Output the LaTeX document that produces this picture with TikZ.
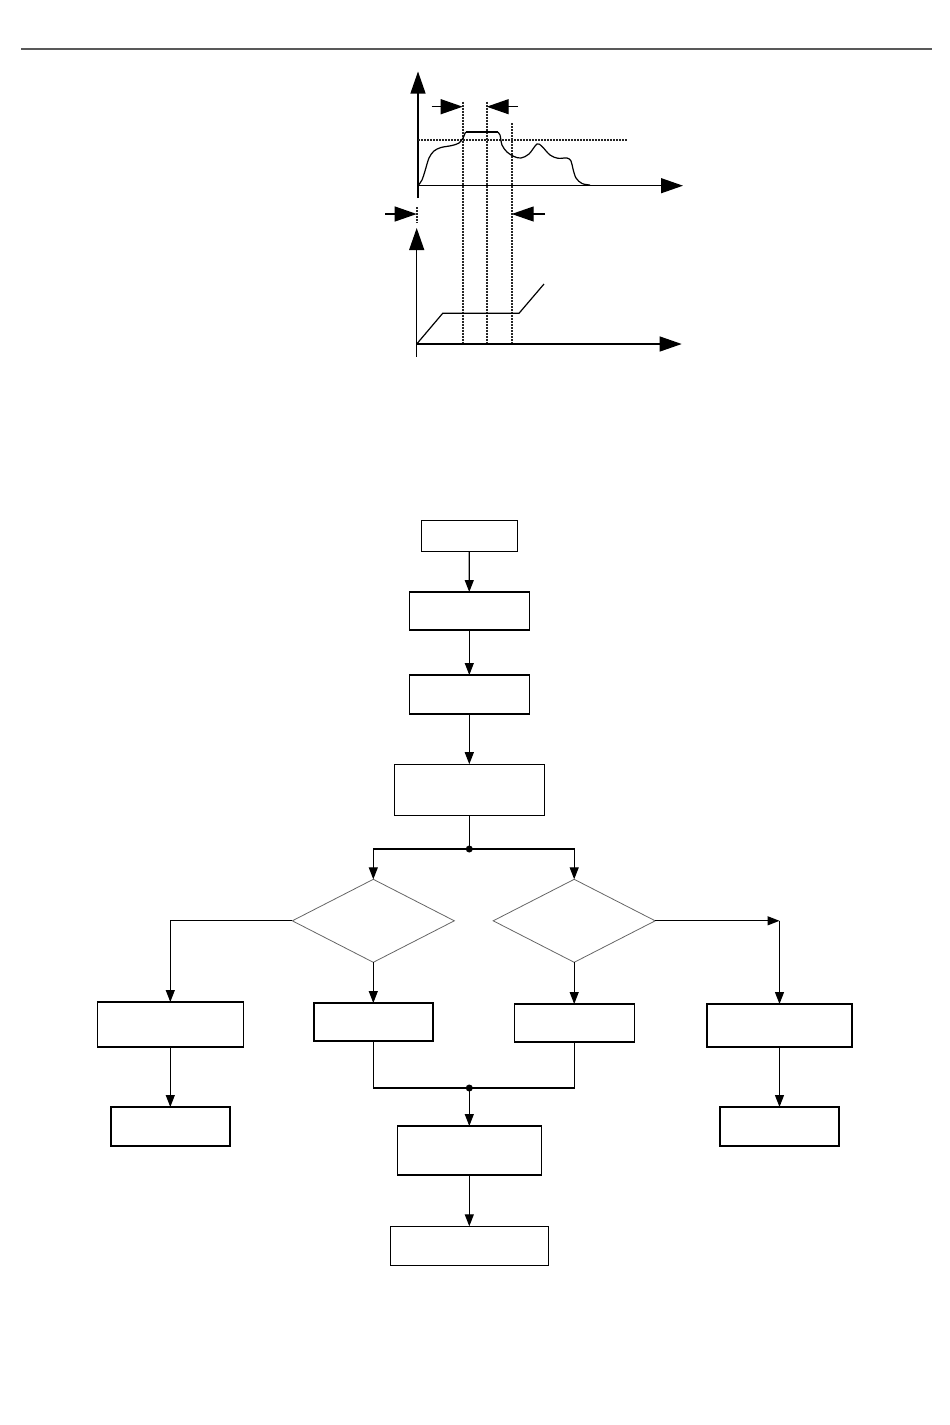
\documentclass[tikz,border=0pt]{standalone}
\usetikzlibrary{arrows.meta,shapes.geometric}
\tikzset{
  box/.style={draw, line width=1.4pt, rectangle, inner sep=0pt, outer sep=0pt},
  dia/.style={draw=black!60, line width=0.8pt, diamond, inner sep=0pt, outer sep=0pt},
  conn/.style={line width=1.2pt, -{Triangle[length=12pt,width=9pt]}},
  plain/.style={line width=1.2pt},
  bigarrow/.style={line width=1.2pt, -{Triangle[length=22pt,width=15pt]}},
  dotline/.style={line width=1.8pt, black!85, dash pattern=on 2pt off 1pt},
  jdot/.style={circle, fill=black, inner sep=0pt, minimum size=7pt}
}
\begin{document}
\begin{tikzpicture}[x=1pt,y=-1pt]
\useasboundingbox (0,0) rectangle (950,1425);
% header rule
\draw[line width=2pt, black!65] (21,49) -- (932,49);

% ---------- upper chart ----------
\draw[bigarrow] (418,198) -- (418,71.5);
\draw[bigarrow] (418,185.7) -- (683,185.7);
\draw[dotline] (418,140) -- (627,140);
\draw[dotline] (462.7,101.7) -- (462.7,344);
\draw[dotline] (486.7,101.7) -- (486.7,344);
\draw[dotline] (511.7,123) -- (511.7,344);
\draw[bigarrow] (431.7,106.7) -- (462.7,106.7);
\draw[bigarrow] (518,106.7) -- (486.7,106.7);
\draw[line width=1.2pt] plot[smooth, tension=0.55] coordinates {
  (418,185.7) (422,180) (425,171) (429,158) (434,151) (441,147.5) (452,145.5) (459,143) (463,138) (465.5,132)};
\draw[line width=1.2pt] (465.5,132) -- (497.5,132);
\draw[line width=1.2pt] plot[smooth, tension=0.55] coordinates {
  (497.5,132) (500,135) (502,145) (507,152) (514,156.5) (521,158) (529,154) (537,144) (542,146.5) (550,155) (558,158.3) (567,158) (571,161) (573,169) (576,178) (582,183.5) (590,185)};

% ---------- lower chart ----------
\draw[dotline, line width=1.1pt] (417,207) -- (417,223);
\draw[bigarrow] (385,214) -- (416.7,214);
\draw[bigarrow] (545,214) -- (511.7,214);
\draw[bigarrow] (416.7,356.7) -- (416.7,228);
\draw[bigarrow] (416.7,344) -- (681.7,344);
\draw[line width=1.2pt] (416.7,344) -- (442.7,313.3) -- (519,313.3) -- (544,284);

% ---------- flowchart ----------
\node[box, minimum width=96pt, minimum height=31pt] (b1) at (469.2,535.8) {};
\node[box, minimum width=120pt, minimum height=38pt] (b2) at (469.3,611) {};
\node[box, minimum width=120pt, minimum height=39pt] (b3) at (469.3,694.5) {};
\node[box, minimum width=150pt, minimum height=51pt] (b4) at (469.3,789.7) {};
\node[dia, minimum width=162pt, minimum height=83pt] (dL) at (373.3,920.8) {};
\node[dia, minimum width=162pt, minimum height=83pt] (dR) at (574.2,920.8) {};
\node[box, minimum width=146pt, minimum height=45pt] (l1) at (170.3,1024.5) {};
\node[box, minimum width=119pt, minimum height=38pt] (cl) at (373.3,1022) {};
\node[box, minimum width=120pt, minimum height=38pt] (cr) at (574.2,1023) {};
\node[box, minimum width=145pt, minimum height=43pt] (r1) at (779.5,1025.5) {};
\node[box, minimum width=119pt, minimum height=39pt] (l2) at (170.3,1126.5) {};
\node[box, minimum width=119pt, minimum height=39pt] (r2) at (779.5,1126.5) {};
\node[box, minimum width=144pt, minimum height=49pt] (b5) at (469.3,1150.5) {};
\node[box, minimum width=158pt, minimum height=39pt] (b6) at (469.3,1245.8) {};

\coordinate (j1) at (469.3,849);
\coordinate (j2) at (469.3,1088);
\coordinate (cR) at (779.5,920.8);

\draw[conn] (b1) -- (b2);
\draw[conn] (b2) -- (b3);
\draw[conn] (b3) -- (b4);
\draw[plain] (b4.south) -- (j1);
\draw[conn] (j1) -| (dL.north);
\draw[conn] (j1) -| (dR.north);
\node[jdot] at (j1) {};
\draw[conn] (dL.west) -| (l1.north);
\draw[conn] (dR.east) -- (cR);
\draw[conn] (cR) -- (r1.north);
\draw[conn] (dL.south) -- (cl.north);
\draw[conn] (dR.south) -- (cr.north);
\draw[plain] (cl.south) |- (j2);
\draw[plain] (cr.south) |- (j2);
\draw[conn] (j2) -- (b5.north);
\node[jdot] at (j2) {};
\draw[conn] (l1) -- (l2);
\draw[conn] (r1) -- (r2);
\draw[conn] (b5) -- (b6);
\end{tikzpicture}
\end{document}
